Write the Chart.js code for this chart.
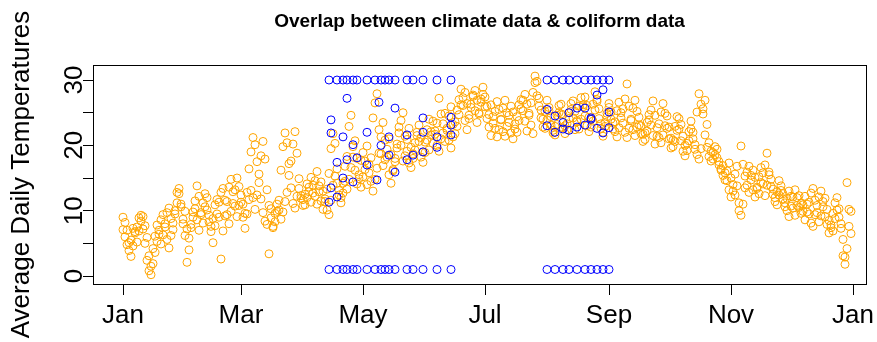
<!DOCTYPE html>
<html>
<head>
<meta charset="utf-8">
<script src="https://cdn.jsdelivr.net/npm/chart.js@4"></script>
<style>
  body { margin: 0; background: #fff; }
  canvas { display: block; }
</style>
</head>
<body>
<canvas id="tempChart" width="877" height="342"></canvas>
<script>
// axis ticks (day of year)
const monthTickDays = [0, 59, 120, 181, 243, 304, 365];
const monthTickLabels = ["Jan", "Mar", "May", "Jul", "Sep", "Nov", "Jan"];
const tempTicks = [0, 5, 10, 15, 20, 25, 30];
const tempTickLabels = [0, 10, 20, 30];

// daily average temperatures, one value per day of year (first year)
const tempsYearA = [
  9.0, 8.2, 7.0, 5.1, 3.0, 4.6, 6.8, 7.5, 8.9, 9.3,
  7.2, 5.0, 2.4, 0.8, 1.5, 4.2, 6.1, 7.8, 6.4, 4.9,
  6.3, 8.0, 9.7, 10.4, 8.8, 7.1, 9.5, 11.2, 12.6, 11.0,
  8.7, 6.2, 2.1, 4.0, 7.9, 9.8, 11.5, 13.8, 12.2, 9.4,
  8.1, 10.6, 12.0, 9.3, 7.6, 8.8, 10.9, 11.7, 9.0, 2.6,
  6.9, 9.2, 11.4, 13.6, 14.8, 12.9, 10.7, 9.1, 10.8, 12.4,
  11.0, 9.6, 12.8, 16.4, 19.0, 21.2, 20.1, 17.5, 14.3, 11.8,
  9.7, 8.4, 7.9, 3.4, 10.3, 7.6, 8.3, 9.9, 11.6, 16.2,
  19.8, 21.9, 20.4, 17.2, 13.5, 11.1, 10.4, 12.2, 13.4, 11.9,
  10.8, 12.5, 14.1, 12.9, 11.3, 12.7, 14.6, 16.0, 13.8, 11.5,
  10.2, 11.8, 13.3, 15.7, 19.5, 21.8, 20.3, 16.4, 13.1, 12.0,
  14.2, 16.8, 18.3, 22.9, 24.6, 19.8, 16.2, 14.1, 15.5, 17.7,
  18.9, 16.3, 14.0, 15.8, 18.1, 24.2, 26.5, 27.9, 22.4, 18.7,
  16.9, 17.8, 19.4, 21.0, 18.6, 16.1, 17.5, 20.2, 22.8, 20.0,
  17.6, 18.4, 20.9, 22.6, 19.7, 18.0, 19.3, 21.5, 23.1, 21.2,
  19.0, 20.5, 22.4, 24.0, 22.1, 20.3, 21.7, 23.4, 27.2, 24.8,
  21.9, 20.6, 22.3, 24.5, 25.9, 23.2, 21.8, 22.9, 24.7, 26.2,
  27.3, 28.1, 26.4, 24.6, 25.8, 27.5, 28.4, 26.9, 25.0, 26.6,
  27.8, 25.9, 24.1, 22.8, 21.5, 23.4, 25.2, 26.7, 25.5, 23.9,
  22.1, 21.4, 22.9, 24.6, 26.0, 25.1, 23.3, 22.0, 23.8, 25.6,
  26.9, 27.8, 26.3, 24.9, 23.1, 21.8, 30.6, 29.8, 27.2, 25.4,
  24.0, 22.6, 23.9, 25.8, 24.4, 22.3, 21.6, 23.2, 25.0, 26.3,
  24.7, 23.0, 22.4, 24.1, 25.5, 26.8, 25.2, 23.6, 22.5, 24.0,
  25.9, 27.4, 26.1, 24.3, 22.8, 23.7, 25.4, 27.0, 25.6, 23.3,
  22.0, 23.5, 24.9, 26.4, 25.1, 23.4, 22.1, 21.3, 22.7, 24.2,
  25.6, 27.1, 29.4, 26.0, 23.8, 22.4, 21.5, 22.8, 24.3, 23.0,
  21.7, 20.9, 22.2, 23.9, 25.4, 26.8, 24.6, 22.7, 21.2, 20.4,
  21.6, 23.0, 24.5, 22.8, 21.1, 19.8, 20.6, 22.3, 24.1, 23.2,
  21.4, 20.0, 19.2, 20.7, 22.5, 21.0, 19.4, 25.1, 27.9, 26.3,
  24.8, 21.6, 19.7, 18.3, 17.6, 18.9, 19.8, 18.1, 17.0, 16.4,
  16.9, 15.8, 14.6, 13.2, 12.1, 14.0, 15.6, 16.8, 11.2, 19.9,
  17.1, 15.3, 13.9, 12.8, 14.7, 16.2, 15.1, 13.4, 12.6, 14.3,
  15.8, 17.0, 18.8, 15.9, 13.7, 12.5, 11.4, 12.9, 14.6, 13.1,
  11.8, 10.6, 11.9, 13.0, 12.2, 10.4, 9.3, 10.8, 12.3, 11.1,
  9.9, 8.6, 9.8, 11.3, 12.7, 13.4, 11.6, 9.7, 8.3, 9.2,
  10.6, 11.9, 10.2, 8.5, 7.4, 6.9, 8.8, 10.1, 9.0, 7.3,
  5.6, 2.9, 14.3, 10.2, 6.5
];

// daily average temperatures, second year
const tempsYearB = [
  7.1, 6.0, 4.8, 3.9, 5.5, 7.3, 6.6, 5.2, 6.9, 8.4,
  9.1, 7.7, 5.9, 3.1, 0.2, 1.9, 3.6, 5.3, 7.0, 8.6,
  9.4, 7.5, 5.6, 4.3, 6.2, 8.1, 10.0, 12.8, 13.4, 10.6,
  8.0, 9.9, 7.2, 5.8, 7.4, 9.0, 10.3, 8.6, 7.0, 9.7,
  11.2, 12.6, 10.1, 8.3, 6.8, 5.1, 7.7, 9.5, 11.3, 12.8,
  13.4, 11.6, 9.4, 8.0, 9.9, 11.1, 13.2, 15.0, 13.7, 11.3,
  9.0, 7.3, 9.5, 11.7, 13.1, 12.0, 10.2, 12.4, 15.6, 18.4,
  20.6, 17.9, 13.2, 10.8, 8.9, 7.4, 9.6, 11.0, 10.1, 8.7,
  9.8, 11.4, 12.8, 15.4, 17.6, 20.2, 22.1, 18.8, 14.9, 12.3,
  11.7, 10.9, 12.0, 13.6, 15.1, 13.9, 12.2, 11.0, 12.9, 14.4,
  13.0, 11.4, 10.1, 9.4, 11.6, 13.9, 15.3, 14.2, 12.4, 11.2,
  12.7, 14.5, 13.3, 14.8, 16.6, 18.2, 20.7, 18.0, 14.9, 13.6,
  15.2, 17.6, 19.9, 17.1, 14.5, 13.0, 14.8, 16.5, 18.8, 21.3,
  23.5, 20.8, 18.2, 15.5, 14.2, 16.3, 18.0, 19.6, 21.9, 23.8,
  25.0, 21.4, 19.1, 17.3, 16.6, 18.7, 20.4, 22.0, 20.6, 18.2,
  17.4, 18.9, 20.8, 19.3, 21.6, 23.7, 22.2, 20.0, 19.1, 21.0,
  23.3, 24.9, 22.6, 20.8, 19.6, 21.3, 23.6, 25.4, 27.0, 28.6,
  26.1, 23.8, 22.4, 24.1, 26.3, 27.7, 25.3, 23.5, 24.8, 27.1,
  28.9, 27.4, 26.0, 24.7, 26.2, 24.4, 22.6, 21.3, 22.4, 24.0,
  25.7, 26.9, 25.0, 23.5, 21.9, 21.0, 22.5, 24.4, 26.2, 27.0,
  25.3, 23.7, 22.2, 24.6, 26.5, 28.1, 29.6, 27.6, 26.0, 24.2,
  22.8, 25.2, 26.9, 25.3, 23.1, 21.9, 22.9, 24.6, 26.1, 24.8,
  22.7, 21.8, 23.3, 25.0, 26.4, 24.2, 22.4, 23.8, 26.0, 27.3,
  26.2, 24.5, 23.0, 22.1, 24.0, 26.3, 28.2, 26.7, 24.1, 22.6,
  21.4, 22.9, 24.4, 25.8, 24.0, 22.5, 23.6, 25.3, 26.6, 25.0,
  23.4, 22.0, 21.2, 22.6, 24.0, 25.7, 26.9, 25.2, 23.1, 21.8,
  20.6, 21.9, 23.5, 24.7, 23.1, 21.5, 20.2, 21.4, 23.3, 25.1,
  26.4, 24.9, 22.6, 21.0, 19.6, 20.8, 22.9, 24.4, 22.5, 20.7,
  19.1, 18.4, 20.3, 22.1, 23.7, 22.0, 20.1, 18.6, 17.9, 19.5,
  25.6, 26.9, 23.2, 20.4, 19.1, 17.9, 18.6, 19.4, 17.5, 16.2,
  15.4, 14.7, 16.1, 17.3, 15.0, 13.0, 12.4, 13.8, 10.0, 9.3,
  11.0, 13.5, 15.9, 16.8, 15.4, 13.2, 12.1, 13.6, 15.2, 16.6,
  14.1, 12.3, 13.9, 15.5, 14.8, 13.3, 12.0, 10.9, 12.4, 13.8,
  12.6, 11.2, 10.0, 9.1, 10.7, 12.1, 13.2, 12.0, 10.5, 9.6,
  10.9, 12.2, 11.0, 9.5, 8.1, 7.6, 9.4, 10.8, 12.1, 13.0,
  11.4, 9.1, 7.9, 6.6, 7.8, 9.6, 11.2, 12.0, 10.3, 8.0,
  3.1, 1.8, 4.2, 7.6, 9.9
];

// coliform sampling days, marked at the top and bottom of the plot
const sampleDays = [103, 107, 110, 112, 115, 117, 122, 126, 129, 131, 133, 136, 142, 145, 150, 157, 164,
                    212, 216, 220, 223, 227, 231, 234, 237, 240, 243];
const markHigh = 30;
const markLow = 1;

// temperatures on the coliform sampling days
const coliformDays = [103, 107, 107, 104, 104, 104, 112, 110, 110, 115, 112, 117, 115, 122, 122, 127, 129, 128,
                      136, 133, 133, 136, 142, 145, 142, 150, 150, 150, 157, 157, 164, 164, 164,
                      212, 212, 216, 216, 220, 220, 223, 223, 227, 227, 231, 231, 234, 234, 237, 237, 240, 240, 243, 243];
const coliformTemps = [11.3, 12.1, 17.4, 21.9, 23.9, 13.5, 27.2, 21.3, 15.0, 20.1, 17.8, 18.1, 14.4, 22.0, 17.0, 14.7, 20.0, 26.6,
                       25.7, 21.3, 18.5, 15.9, 21.6, 18.5, 17.8, 24.2, 22.0, 19.0, 21.3, 19.7, 24.3, 23.1, 21.6,
                       25.5, 23.0, 22.0, 24.5, 22.5, 23.5, 22.3, 25.0, 22.8, 25.7, 23.1, 25.7, 24.0, 24.2, 27.7, 22.6, 28.5, 21.9, 25.1, 22.7];

const FONT = "'Liberation Sans', Arial, Helvetica, sans-serif";

function toPoints(days, temps) {
  return days.map((d, i) => ({ x: d, y: temps[i] }));
}

const circle = (color) => ({
  showLine: false,
  pointStyle: 'circle',
  pointRadius: 4,
  pointHoverRadius: 4,
  pointBorderWidth: 1,
  pointBorderColor: color,
  pointBackgroundColor: 'rgba(0,0,0,0)',
  borderColor: color,
  backgroundColor: 'rgba(0,0,0,0)'
});

// R-like frame, rotated y labels and title
const rFrame = {
  id: 'rFrame',
  afterDraw(chart) {
    const { ctx, chartArea: a, scales } = chart;
    ctx.save();
    ctx.strokeStyle = '#000';
    ctx.lineWidth = 1;
    ctx.strokeRect(Math.round(a.left) + 0.5, Math.round(a.top) + 0.5,
                   Math.round(a.right - a.left), Math.round(a.bottom - a.top));

    ctx.fillStyle = '#000';
    ctx.font = '26px ' + FONT;
    ctx.textAlign = 'center';
    ctx.textBaseline = 'alphabetic';
    tempTickLabels.forEach(v => {
      const y = scales.y.getPixelForValue(v);
      ctx.save();
      ctx.translate(82, y);
      ctx.rotate(-Math.PI / 2);
      ctx.fillText(String(v), 0, 0);
      ctx.restore();
    });

    ctx.save();
    ctx.translate(29, (a.top + a.bottom) / 2);
    ctx.rotate(-Math.PI / 2);
    ctx.fillText('Average Daily Temperatures', 0, 0);
    ctx.restore();

    ctx.font = 'bold 19px ' + FONT;
    ctx.fillText('Overlap between climate data & coliform data', (a.left + a.right) / 2, 27);
    ctx.restore();
  }
};

new Chart(document.getElementById('tempChart'), {
  type: 'scatter',
  data: {
    datasets: [
      Object.assign({ label: 'climate A', order: 2,
        data: tempsYearA.map((v, i) => ({ x: i, y: v })) }, circle('#FFA500')),
      Object.assign({ label: 'climate B', order: 2,
        data: tempsYearB.map((v, i) => ({ x: i, y: v })) }, circle('#FFA500')),
      Object.assign({ label: 'coliform', order: 1,
        data: toPoints(coliformDays, coliformTemps) }, circle('#0000FF')),
      Object.assign({ label: 'sample high', order: 1,
        data: sampleDays.map(d => ({ x: d, y: markHigh })) }, circle('#0000FF')),
      Object.assign({ label: 'sample low', order: 1,
        data: sampleDays.map(d => ({ x: d, y: markLow })) }, circle('#0000FF'))
    ]
  },
  options: {
    responsive: false,
    animation: false,
    devicePixelRatio: 1,
    layout: { padding: { top: 65, right: 11, left: 0, bottom: 0 } },
    plugins: { legend: { display: false }, tooltip: { enabled: false }, title: { display: false } },
    scales: {
      x: {
        type: 'linear',
        min: -15,
        max: 371.5,
        afterBuildTicks: s => { s.ticks = monthTickDays.map(v => ({ value: v })); },
        afterFit: s => { s.height = 58; s.paddingLeft = 0; s.paddingRight = 0; },
        grid: { drawOnChartArea: false, drawTicks: true, tickLength: 11, tickColor: '#000', tickWidth: 1 },
        border: { display: false },
        ticks: {
          autoSkip: false, maxRotation: 0, minRotation: 0, padding: 5, color: '#000',
          font: { family: FONT, size: 26 },
          callback: (v, i) => monthTickLabels[i]
        }
      },
      y: {
        type: 'linear',
        min: -1.22,
        max: 32.3,
        afterBuildTicks: s => { s.ticks = tempTicks.map(v => ({ value: v })); },
        afterFit: s => { s.width = 93; s.paddingTop = 0; s.paddingBottom = 0; },
        grid: { drawOnChartArea: false, drawTicks: true, tickLength: 10, tickColor: '#000', tickWidth: 1 },
        border: { display: false },
        ticks: { callback: () => '', padding: 0 }
      }
    }
  },
  plugins: [rFrame]
});
</script>
</body>
</html>
